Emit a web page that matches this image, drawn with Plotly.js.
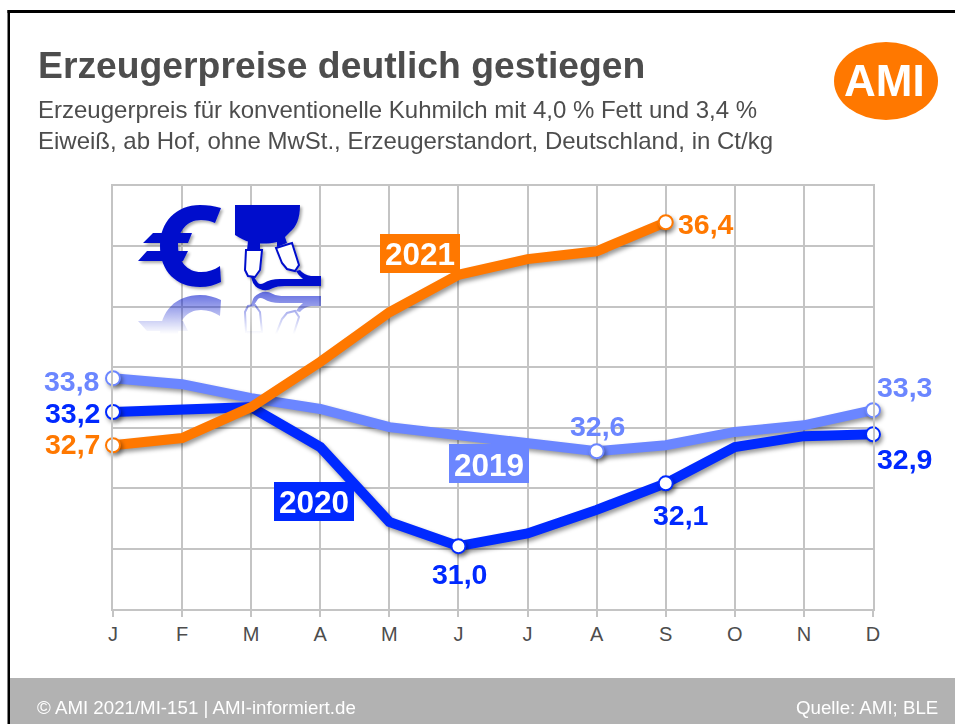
<!DOCTYPE html>
<html><head><meta charset="utf-8">
<script src="https://cdn.plot.ly/plotly-3.0.1.min.js"></script>
<style>
html,body{margin:0;padding:0;background:#fff;overflow:hidden}
#c{width:955px;height:724px}
.scatterlayer .trace .js-line,.scatterlayer .trace .points{filter:drop-shadow(2px 3px 2px rgba(0,0,0,.4))}
</style></head><body><div id="c"></div>
<script>
const months=["J","F","M","A","M","J","J","A","S","O","N","D"];
const values2019=[33.82,33.72,33.49,33.31,33.01,32.88,32.71,32.61,32.71,32.93,33.04,33.29];
const values2020=[33.26,33.31,33.34,32.68,31.44,31.04,31.25,31.64,32.08,32.68,32.86,32.89];
const values2021=[32.71,32.83,33.34,34.09,34.91,35.53,35.79,35.92,36.40];
const labels2019=[[0,"33,8"],[7,"32,6"],[11,"33,3"]];
const labels2020=[[0,"33,2"],[5,"31,0"],[8,"32,1"],[11,"32,9"]];
const labels2021=[[0,"32,7"],[8,"36,4"]];
const colors={y2019:"#6b86ff",y2020:"#0029ff",y2021:"#ff7800"};

const W=955,H=724,L=113,R=873,T=186,B=609;
const px=x=>(x-L)/(R-L), py=y=>(B-y)/(B-T);
const idx=months.map((_,i)=>i);

function trace(vals,lab,col){
  const keep=new Set(lab.map(l=>l[0]));
  return {x:idx.slice(0,vals.length),y:vals,type:"scatter",mode:"lines+markers",cliponaxis:false,
    line:{color:col,width:10,shape:"linear"},
    marker:{size:vals.map((_,i)=>keep.has(i)?14:0),color:"#fff",opacity:1,line:{color:vals.map((_,i)=>keep.has(i)?col:"rgba(0,0,0,0)"),width:2}},
    hoverinfo:"skip",showlegend:false};
}
function label(x,y,text,col,size,opts){
  return Object.assign({xref:"paper",yref:"paper",x:px(x),y:py(y),text:text,showarrow:false,xanchor:"left",yanchor:"middle",
    font:{family:"Liberation Sans, Arial, sans-serif",size:size,color:col}},opts||{});
}
function rect(x0,y0,x1,y1,col,extra){
  return Object.assign({type:"rect",xref:"paper",yref:"paper",layer:"above",x0:px(x0),x1:px(x1),y0:py(y0),y1:py(y1),fillcolor:col,line:{width:0}},extra||{});
}
const grey="#4d4d4d";

const icon=`<svg xmlns="http://www.w3.org/2000/svg" xmlns:xlink="http://www.w3.org/1999/xlink" width="200" height="150" viewBox="130 195 200 150">
<defs>
<filter id="s" filterUnits="userSpaceOnUse" x="130" y="195" width="200" height="150"><feGaussianBlur in="SourceAlpha" stdDeviation="1.5"/><feOffset dx="2" dy="2"/><feComponentTransfer><feFuncA type="linear" slope="0.35"/></feComponentTransfer><feMerge><feMergeNode/><feMergeNode in="SourceGraphic"/></feMerge></filter>
<linearGradient id="f" gradientUnits="userSpaceOnUse" x1="0" y1="293" x2="0" y2="334"><stop offset="0" stop-color="#fff" stop-opacity="0.6"/><stop offset="1" stop-color="#fff" stop-opacity="0"/></linearGradient>
<mask id="m" maskUnits="userSpaceOnUse" x="130" y="290" width="200" height="50"><rect x="130" y="290" width="200" height="50" fill="url(#f)"/></mask>
<g id="i">
<path fill="#0011cc" d="M221 208C214 206 208 205 200 205C176 205 160 222 160 246C160 271 176 287 200 287C208 287 215 285 221 282L220 266C214 270 208 272 201 272C187 272 178 261 178 246C178 231 187 220 201 220C206 220 211 221 215 223Z"/>
<path fill="#0011cc" d="M153 233H192L188 243H143ZM147 251H188L183 261H138Z"/>
<path fill="#0011cc" d="M235 205H300C300 219 296 227 290 232L285 237L287 243L277 247L277 242C268 244 258 244 250 242C245 241 240 238 235 235Z"/>
<path fill="#0011cc" d="M248 241H260V250H247Z"/>
<path fill="#fff" stroke="#0011cc" stroke-width="2" d="M246 250H262L260 270L255 277L248 276L245 270Z"/>
<path fill="#fff" stroke="#0011cc" stroke-width="2" d="M276 248L292 243L299 265L295 271L287 269L282 263Z"/>
<path fill="#0011cc" d="M251 277L254 277L258 283Q260 285 264 283Q270 279 280 279H303Q298 275 296 271L300 270Q304 275 311 276H321V286H285Q277 286 273 288Q266 292 260 289Q255 287 253 283Z"/>
</g></defs>
<g filter="url(#s)"><use xlink:href="#i" href="#i"/></g>
<g mask="url(#m)"><use xlink:href="#i" href="#i" transform="translate(0,582) scale(1,-1)"/></g>
</svg>`;

const F="Liberation Sans, Arial, sans-serif";
const annotations=[
  label(36,65,"<b>Erzeugerpreise deutlich gestiegen</b>",grey,37.3),
  label(36,110,"Erzeugerpreis für konventionelle Kuhmilch mit 4,0 % Fett und 3,4 %",grey,24),
  label(36,141,"Eiweiß, ab Hof, ohne MwSt., Erzeugerstandort, Deutschland, in Ct/kg",grey,24),
  label(884,80,"<b>AMI</b>","#fff",44,{xanchor:"center"}),
  label(35,707,"© AMI 2021/MI-151 | AMI-informiert.de","#fff",18.7),
  label(940,707,"Quelle: AMI; BLE","#fff",18.7,{xanchor:"right"}),
  label(420,254,"<b>2021</b>","#fff",31.5,{xanchor:"center"}),
  label(489,465,"<b>2019</b>","#fff",31.5,{xanchor:"center"}),
  label(314,502,"<b>2020</b>","#fff",31.5,{xanchor:"center"}),
  label(101,381,"<b>"+labels2019[0][1]+"</b>",colors.y2019,28.5,{xanchor:"right"}),
  label(597,426,"<b>"+labels2019[1][1]+"</b>",colors.y2019,28.5,{xanchor:"center"}),
  label(905,387,"<b>"+labels2019[2][1]+"</b>",colors.y2019,28.5,{xanchor:"center"}),
  label(102,413,"<b>"+labels2020[0][1]+"</b>",colors.y2020,28.5,{xanchor:"right"}),
  label(459,574,"<b>"+labels2020[1][1]+"</b>",colors.y2020,28.5,{xanchor:"center"}),
  label(681,515,"<b>"+labels2020[2][1]+"</b>",colors.y2020,28.5,{xanchor:"center"}),
  label(905,459,"<b>"+labels2020[3][1]+"</b>",colors.y2020,28.5,{xanchor:"center"}),
  label(102,444,"<b>"+labels2021[0][1]+"</b>",colors.y2021,28.5,{xanchor:"right"}),
  label(706,224,"<b>"+labels2021[1][1]+"</b>",colors.y2021,28.5,{xanchor:"center"})
];
const shapes=[
  rect(7.5,10,955,13,"#000"),
  rect(7.5,10,10,724,"#000"),
  rect(10,678,955,724,"#b2b2b2"),
  {type:"circle",xref:"paper",yref:"paper",layer:"above",x0:px(834),x1:px(938),y0:py(42),y1:py(120),fillcolor:colors.y2021,line:{width:0}},
  rect(380,234,460,273,colors.y2021),
  rect(449,444,529,483,colors.y2019),
  rect(274,482,354,521,colors.y2020)
];
const layout={
  width:W,height:H,margin:{l:L,r:W-R,t:T,b:H-B,pad:0},autosize:false,
  paper_bgcolor:"#fff",plot_bgcolor:"#fff",showlegend:false,
  font:{family:F},
  xaxis:{range:[0,11],tickmode:"array",tickvals:idx,ticktext:months,showgrid:true,gridcolor:"#c4c4c4",gridwidth:2,
    zeroline:false,showline:true,linecolor:"#c4c4c4",linewidth:2,mirror:true,ticks:"outside",ticklen:6,tickcolor:"#c4c4c4",tickwidth:2,
    tickfont:{family:F,size:20,color:grey},tickangle:0,fixedrange:true},
  yaxis:{range:[30,37],tickmode:"linear",tick0:30,dtick:1,showticklabels:false,showgrid:true,gridcolor:"#c4c4c4",gridwidth:2,
    zeroline:false,showline:true,linecolor:"#c4c4c4",linewidth:2,mirror:true,ticks:"",fixedrange:true},
  annotations:annotations,shapes:shapes,
  images:[{source:"data:image/svg+xml;charset=utf-8,"+encodeURIComponent(icon),xref:"paper",yref:"paper",x:px(130),y:py(195),sizex:200/(R-L),sizey:150/(B-T),xanchor:"left",yanchor:"top",sizing:"stretch",layer:"above"}]
};
Plotly.newPlot("c",[trace(values2019,labels2019,colors.y2019),trace(values2020,labels2020,colors.y2020),trace(values2021,labels2021,colors.y2021)],layout,{displayModeBar:false,staticPlot:true});
</script></body></html>
